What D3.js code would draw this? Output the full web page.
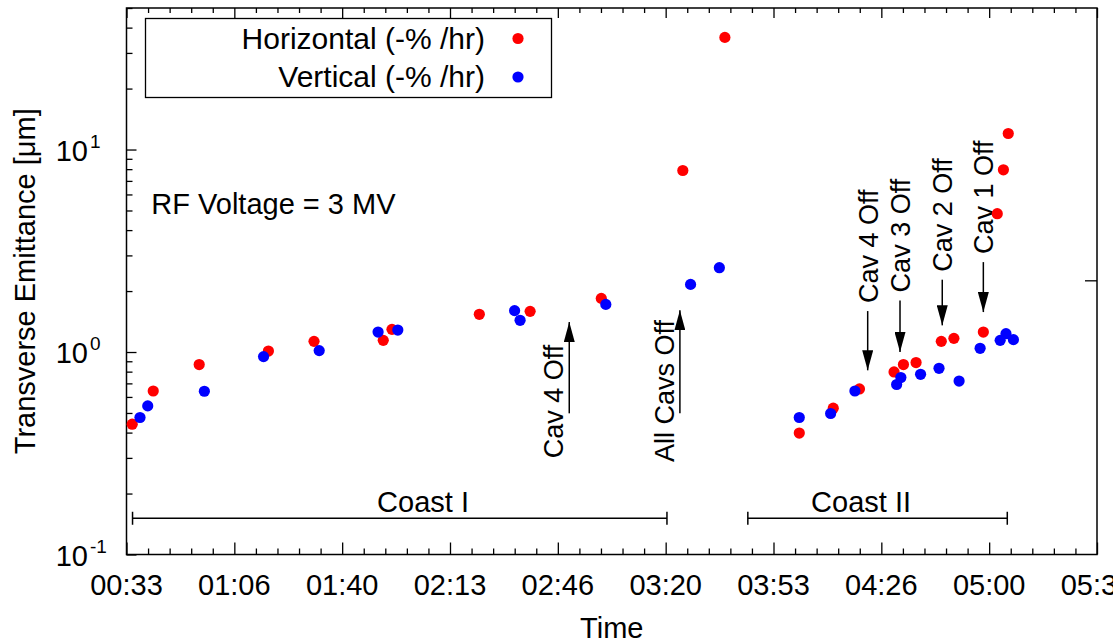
<!DOCTYPE html>
<html>
<head>
<meta charset="utf-8">
<script src="https://cdn.jsdelivr.net/npm/d3@7"></script>
<style>
  html, body { margin: 0; padding: 0; background: #fff; }
  svg text { font-family: "Liberation Sans", Arial, Helvetica, sans-serif; fill: #000; }
</style>
</head>
<body>
<svg id="chart" width="1113" height="643"></svg>
<script>
// ---------- DATA (time in minutes after midnight, emittance in µm) ----------
const horizTime = [35.1, 41.6, 55.8, 77.2, 91.3, 112.7, 115.4, 142.4, 158.1, 180.1, 205.3, 218.3,
                   241.3, 251.8, 259.9, 270.6, 273.5, 277.4, 285.2, 289.1, 298.2, 302.5, 304.4, 305.9];
const horizValue = [0.440, 0.642, 0.867, 1.011, 1.129, 1.142, 1.294, 1.535, 1.588, 1.840, 7.88, 35.8,
                    0.398, 0.528, 0.657, 0.797, 0.867, 0.887, 1.129, 1.168, 1.255, 4.82, 7.94, 12.0];
const vertTime = [37.5, 39.9, 57.4, 75.7, 92.9, 111.1, 117.2, 153.3, 155.0, 181.5, 207.7, 216.6,
                  241.3, 251.0, 258.5, 271.4, 272.7, 278.8, 284.5, 290.7, 297.2, 303.4, 305.2, 307.5];
const vertValue = [0.475, 0.542, 0.640, 0.949, 1.016, 1.255, 1.284, 1.601, 1.434, 1.719, 2.158, 2.609,
                   0.475, 0.497, 0.642, 0.691, 0.748, 0.776, 0.831, 0.719, 1.043, 1.142, 1.232, 1.151];

const seriesNames = ["Horizontal (-% /hr)", "Vertical (-% /hr)"];
const seriesColors = ["#ff0000", "#0000ff"];

const xTickSeconds = [2000, 4000, 6000, 8000, 10000, 12000, 14000, 16000, 18000, 20000];
const xTickLabels = ["00:33", "01:06", "01:40", "02:13", "02:46", "03:20", "03:53", "04:26", "05:00", "05:33"];
const yTickValues = [0.1, 1, 10];
const yTickExponents = ["-1", "0", "1"];
const rightTickValues = [2.26];

// Coast spans
const coastNames = ["Coast I", "Coast II"];
const coastStart = [35.2, 225.4];
const coastEnd = [200.4, 305.6];
const coastLabelTime = [125.0, 260.4];
const coastLevel = 0.151;

// Arrows: upward (Coast I) with label to the left, downward (Coast II) with label above
const arrowLabels = ["Cav 4 Off", "All Cavs Off", "Cav 4 Off", "Cav 3 Off", "Cav 2 Off", "Cav 1 Off"];
const arrowTime = [170.2, 204.4, 262.45, 272.44, 285.5, 298.2];
const arrowFrom = [0.498, 0.498, 1.593, 1.799, 2.276, 2.780];
const arrowTo = [1.406, 1.606, 0.812, 1.0, 1.354, 1.575];
const arrowTextStart = [0.299, 0.286, null, null, null, null];

const rfText = "RF Voltage = 3 MV";
const rfTime = 41.0, rfValue = 4.83;

// ---------- CHART ----------
const svg = d3.select("#chart");
const L = 126.5, R = 1097, T = 8, B = 554.5;
const x = d3.scaleLinear().domain([2000 / 60, 20000 / 60]).range([L, R]);
const y = d3.scaleLog().domain([0.1, 50]).range([B, T]);
const FS = 29;

// axes ticks
const majorX = xTickSeconds.map(s => s / 60);
const minorX = d3.range(2000, 20001, 400).map(s => s / 60).filter(v => !majorX.some(m => Math.abs(m - v) < 1e-6));
const minorY = [];
[0.1, 1, 10].forEach(d => { for (let k = 2; k <= 9; k++) { const v = d * k; if (v <= 50) minorY.push(v); } });

function styleAxis(g) {
  g.select(".domain").remove();
  g.selectAll("line").attr("stroke", "#000").attr("stroke-width", 1.3);
  g.selectAll("text").remove();
}

svg.append("g").attr("transform", `translate(0,${B})`)
  .call(d3.axisBottom(x).tickValues(majorX).tickSize(-12).tickFormat("")).call(styleAxis);
svg.append("g").attr("transform", `translate(0,${B})`)
  .call(d3.axisBottom(x).tickValues(minorX).tickSize(-6).tickFormat("")).call(styleAxis);
svg.append("g").attr("transform", `translate(0,${T})`)
  .call(d3.axisTop(x).tickValues(majorX).tickSize(-10).tickFormat("")).call(styleAxis);
svg.append("g").attr("transform", `translate(0,${T})`)
  .call(d3.axisTop(x).tickValues(minorX).tickSize(-5).tickFormat("")).call(styleAxis);
svg.append("g").attr("transform", `translate(${L},0)`)
  .call(d3.axisLeft(y).tickValues(yTickValues).tickSize(-10).tickFormat("")).call(styleAxis);
svg.append("g").attr("transform", `translate(${L},0)`)
  .call(d3.axisLeft(y).tickValues(minorY).tickSize(-6).tickFormat("")).call(styleAxis);
svg.append("g").attr("transform", `translate(${R},0)`)
  .call(d3.axisRight(y).tickValues(rightTickValues).tickSize(-12).tickFormat("")).call(styleAxis);

// frame
svg.append("rect").attr("x", L).attr("y", T).attr("width", R - L).attr("height", B - T)
  .attr("fill", "none").attr("stroke", "#000").attr("stroke-width", 1.5);

// x tick labels (last one runs off the right edge, as in the original)
svg.append("g").selectAll("text").data(majorX).join("text")
  .attr("x", d => x(d)).attr("y", B + 40).attr("text-anchor", "middle")
  .attr("font-size", FS).text((d, i) => xTickLabels[i]);

// y tick labels with superscripts
const yl = svg.append("g").selectAll("g").data(yTickValues).join("g");
yl.append("text").attr("x", 88).attr("y", d => y(d) + 11).attr("text-anchor", "end")
  .attr("font-size", FS).text("10");
yl.append("text").attr("x", 90).attr("y", d => y(d) - 2).attr("text-anchor", "start")
  .attr("font-size", 19).text((d, i) => yTickExponents[i]);

// axis titles
svg.append("text").attr("x", (L + R) / 2).attr("y", 638).attr("text-anchor", "middle")
  .attr("font-size", FS).text("Time");
svg.append("text").attr("transform", `translate(35,${(T + B) / 2}) rotate(-90)`)
  .attr("text-anchor", "middle").attr("font-size", FS).text("Transverse Emittance [\u03bcm]");

// RF text
svg.append("text").attr("x", x(rfTime)).attr("y", y(rfValue)).attr("font-size", FS).text(rfText);

// coast spans
coastNames.forEach((name, i) => {
  const g = svg.append("g").attr("stroke", "#000").attr("stroke-width", 1.5);
  const yy = y(coastLevel);
  g.append("line").attr("x1", x(coastStart[i])).attr("x2", x(coastEnd[i])).attr("y1", yy).attr("y2", yy);
  g.append("line").attr("x1", x(coastStart[i])).attr("x2", x(coastStart[i])).attr("y1", yy - 6.5).attr("y2", yy + 6.5);
  g.append("line").attr("x1", x(coastEnd[i])).attr("x2", x(coastEnd[i])).attr("y1", yy - 6.5).attr("y2", yy + 6.5);
  svg.append("text").attr("x", x(coastLabelTime[i])).attr("y", yy - 6)
    .attr("text-anchor", "middle").attr("font-size", FS).text(name);
});

// arrows
svg.append("defs").append("marker").attr("id", "ah")
  .attr("viewBox", "0 0 20 11").attr("refX", 20).attr("refY", 5.5)
  .attr("markerWidth", 20).attr("markerHeight", 11).attr("markerUnits", "userSpaceOnUse")
  .attr("orient", "auto")
  .append("path").attr("d", "M0,0 L20,5.5 L0,11 Z").attr("fill", "#000");

arrowLabels.forEach((lab, i) => {
  const ax = x(arrowTime[i]);
  svg.append("line").attr("x1", ax).attr("x2", ax)
    .attr("y1", y(arrowFrom[i])).attr("y2", y(arrowTo[i]))
    .attr("stroke", "#000").attr("stroke-width", 1.5).attr("marker-end", "url(#ah)");
  let tx, ty;
  if (arrowTextStart[i] !== null) { tx = ax - 6; ty = y(arrowTextStart[i]); }
  else { tx = ax + 10; ty = y(arrowFrom[i]) - 8; }
  svg.append("text").attr("transform", `translate(${tx},${ty}) rotate(-90)`)
    .attr("text-anchor", "start").attr("font-size", 27).text(lab);
});

// points
const series = [
  horizTime.map((t, i) => ({ t, v: horizValue[i] })),
  vertTime.map((t, i) => ({ t, v: vertValue[i] }))
];
series.forEach((s, k) => {
  svg.append("g").selectAll("circle").data(s).join("circle")
    .attr("cx", d => x(d.t)).attr("cy", d => y(d.v)).attr("r", 5.6).attr("fill", seriesColors[k]);
});

// legend
const lg = svg.append("g");
lg.append("rect").attr("x", 145.5).attr("y", 18.5).attr("width", 406).attr("height", 79)
  .attr("fill", "#fff").attr("stroke", "#000").attr("stroke-width", 1.3);
seriesNames.forEach((n, i) => {
  const cy = 38.5 + i * 38.5;
  lg.append("text").attr("x", 485).attr("y", cy + 10).attr("text-anchor", "end").attr("font-size", 30).text(n);
  lg.append("circle").attr("cx", 518).attr("cy", cy).attr("r", 5.6).attr("fill", seriesColors[i]);
});
</script>
</body>
</html>
